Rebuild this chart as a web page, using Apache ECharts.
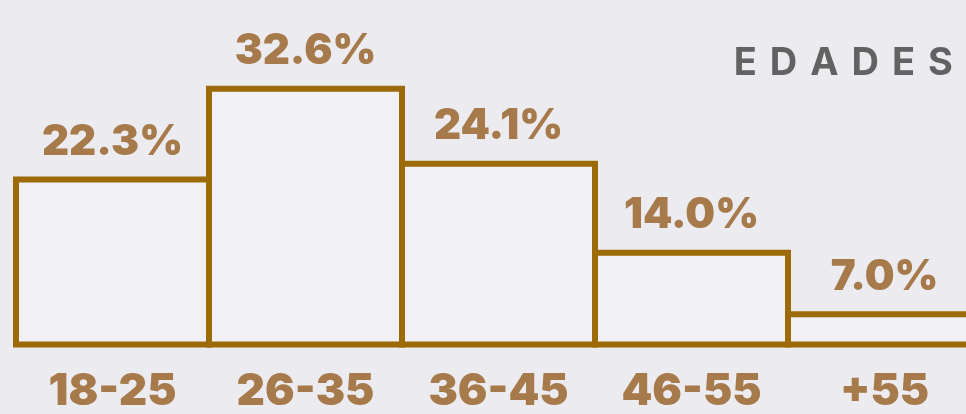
<!DOCTYPE html>
<html>
<head>
<meta charset="utf-8">
<style>
html,body{margin:0;padding:0;background:#ecebf0;}
#chart{width:966px;height:414px;}
</style>
<script src="https://cdn.jsdelivr.net/npm/echarts@6/dist/echarts.min.js"></script>
</head>
<body>
<div id="chart"></div>
<script>
const categories = ['18-25', '26-35', '36-45', '46-55', '+55'];
const values = [22.3, 32.6, 24.1, 14.0, 7.0];
const titleText = 'EDADES';

const brown = '#9c6a06';
const labelBrown = '#a67a4a';
const font = 'Inter, "Open Sans", sans-serif';

// letter-spaced title via rich text fragments
const titleRich = titleText.split('').map((ch, i) =>
  '{' + (i < titleText.length - 1 ? 'l' : 'e') + '|' + ch + '}').join('');

const chart = echarts.init(document.getElementById('chart'), null, {renderer: 'canvas'});
chart.setOption({
  backgroundColor: '#ecebf0',
  animation: false,
  title: {
    text: titleRich,
    right: 8,
    top: 39,
    textStyle: {
      rich: {
        l: {fontFamily: font, fontWeight: 700, fontSize: 38, color: '#626262', padding: [0, 13, 0, 0], lineHeight: 40},
        e: {fontFamily: font, fontWeight: 700, fontSize: 38, color: '#626262', lineHeight: 40}
      }
    }
  },
  grid: {left: 16, right: -15, top: 20.5, bottom: 66.5, outerBoundsMode: 'none', containLabel: false},
  xAxis: {
    type: 'category',
    data: categories,
    axisLine: {show: false},
    axisTick: {show: false},
    axisLabel: {
      color: labelBrown,
      fontFamily: font,
      fontWeight: 900,
      fontSize: 44,
      margin: 22
    }
  },
  yAxis: {
    type: 'value',
    min: 2.9,
    max: 40,
    startValue: 2.9,
    show: false,
    splitLine: {show: false}
  },
  series: [{
    type: 'bar',
    data: values,
    barCategoryGap: 0,
    barWidth: 199,
    clip: false,
    itemStyle: {
      color: 'rgba(255,255,255,0.25)',
      borderColor: brown,
      borderWidth: 6
    },
    label: {
      show: true,
      position: 'top',
      distance: 13,
      color: labelBrown,
      fontFamily: font,
      fontWeight: 900,
      fontSize: 42,
      formatter: p => p.value.toFixed(1) + '%'
    }
  }]
});
</script>
</body>
</html>
